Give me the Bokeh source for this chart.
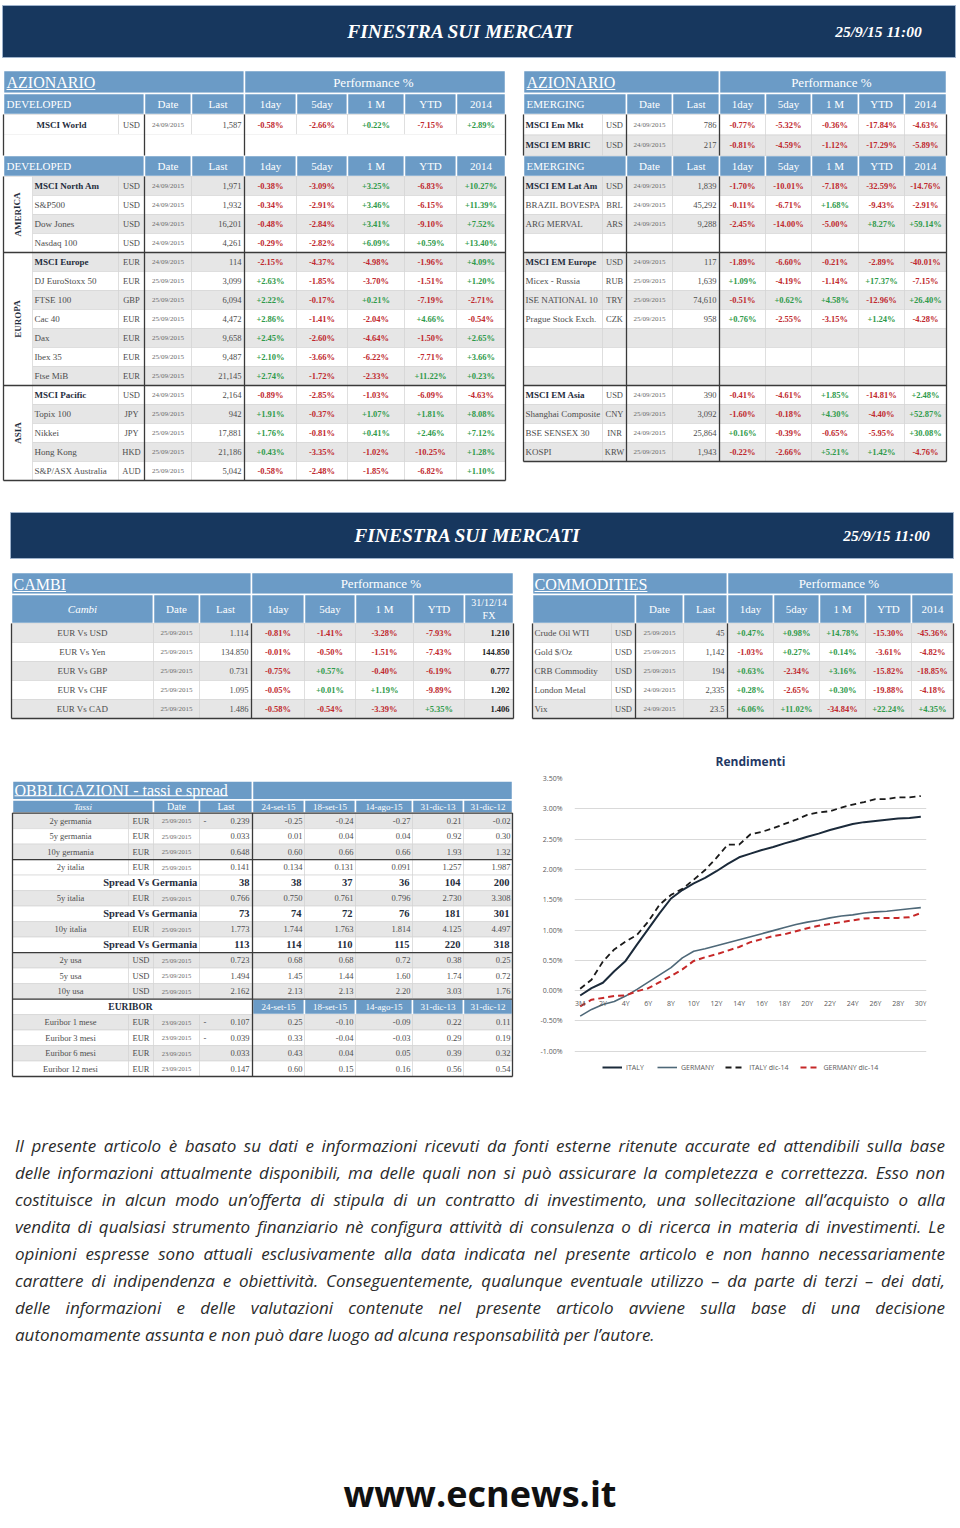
import math
from bokeh.plotting import figure
from bokeh.models import ColumnDataSource, Range1d, FixedTicker, PrintfTickFormatter, Legend, Div
from bokeh.layouts import column, row
from bokeh.embed import file_html
from bokeh.resources import INLINE

# ======================= DATA =======================
title_text = "FINESTRA SUI MERCATI"
title_date = "25/9/15 11:00"
perf_header = ["Date", "Last", "1day", "5day", "1 M", "YTD", "2014"]

dev_top = [("MSCI World", "USD", "24/09/2015", "1,587", "-0.58%", "-2.66%", "+0.22%", "-7.15%", "+2.89%")]
dev_america = [
    ("MSCI North Am", "USD", "24/09/2015", "1,971", "-0.38%", "-3.09%", "+3.25%", "-6.83%", "+10.27%"),
    ("S&P500", "USD", "24/09/2015", "1,932", "-0.34%", "-2.91%", "+3.46%", "-6.15%", "+11.39%"),
    ("Dow Jones", "USD", "24/09/2015", "16,201", "-0.48%", "-2.84%", "+3.41%", "-9.10%", "+7.52%"),
    ("Nasdaq 100", "USD", "24/09/2015", "4,261", "-0.29%", "-2.82%", "+6.09%", "+0.59%", "+13.40%"),
]
dev_europa = [
    ("MSCI Europe", "EUR", "24/09/2015", "114", "-2.15%", "-4.37%", "-4.98%", "-1.96%", "+4.09%"),
    ("DJ EuroStoxx 50", "EUR", "25/09/2015", "3,099", "+2.63%", "-1.85%", "-3.70%", "-1.51%", "+1.20%"),
    ("FTSE 100", "GBP", "25/09/2015", "6,094", "+2.22%", "-0.17%", "+0.21%", "-7.19%", "-2.71%"),
    ("Cac 40", "EUR", "25/09/2015", "4,472", "+2.86%", "-1.41%", "-2.04%", "+4.66%", "-0.54%"),
    ("Dax", "EUR", "25/09/2015", "9,658", "+2.45%", "-2.60%", "-4.64%", "-1.50%", "+2.65%"),
    ("Ibex 35", "EUR", "25/09/2015", "9,487", "+2.10%", "-3.66%", "-6.22%", "-7.71%", "+3.66%"),
    ("Ftse MiB", "EUR", "25/09/2015", "21,145", "+2.74%", "-1.72%", "-2.33%", "+11.22%", "+0.23%"),
]
dev_asia = [
    ("MSCI Pacific", "USD", "24/09/2015", "2,164", "-0.89%", "-2.85%", "-1.03%", "-6.09%", "-4.63%"),
    ("Topix 100", "JPY", "25/09/2015", "942", "+1.91%", "-0.37%", "+1.07%", "+1.81%", "+8.08%"),
    ("Nikkei", "JPY", "25/09/2015", "17,881", "+1.76%", "-0.81%", "+0.41%", "+2.46%", "+7.12%"),
    ("Hong Kong", "HKD", "25/09/2015", "21,186", "+0.43%", "-3.35%", "-1.02%", "-10.25%", "+1.28%"),
    ("S&P/ASX Australia", "AUD", "25/09/2015", "5,042", "-0.58%", "-2.48%", "-1.85%", "-6.82%", "+1.10%"),
]
region_labels = ["AMERICA", "EUROPA", "ASIA"]

em_top = [
    ("MSCI Em Mkt", "USD", "24/09/2015", "786", "-0.77%", "-5.32%", "-0.36%", "-17.84%", "-4.63%"),
    ("MSCI EM BRIC", "USD", "24/09/2015", "217", "-0.81%", "-4.59%", "-1.12%", "-17.29%", "-5.89%"),
]
em_rows = [
    ("MSCI EM Lat Am", "USD", "24/09/2015", "1,839", "-1.70%", "-10.01%", "-7.18%", "-32.59%", "-14.76%"),
    ("BRAZIL BOVESPA", "BRL", "24/09/2015", "45,292", "-0.11%", "-6.71%", "+1.68%", "-9.43%", "-2.91%"),
    ("ARG MERVAL", "ARS", "24/09/2015", "9,288", "-2.45%", "-14.00%", "-5.00%", "+8.27%", "+59.14%"),
    None,
    ("MSCI EM Europe", "USD", "24/09/2015", "117", "-1.89%", "-6.60%", "-0.21%", "-2.89%", "-40.01%"),
    ("Micex - Russia", "RUB", "25/09/2015", "1,639", "+1.09%", "-4.19%", "-1.14%", "+17.37%", "-7.15%"),
    ("ISE NATIONAL 10", "TRY", "25/09/2015", "74,610", "-0.51%", "+0.62%", "+4.58%", "-12.96%", "+26.40%"),
    ("Prague Stock Exch.", "CZK", "25/09/2015", "958", "+0.76%", "-2.55%", "-3.15%", "+1.24%", "-4.28%"),
    None, None, None,
    ("MSCI EM Asia", "USD", "24/09/2015", "390", "-0.41%", "-4.61%", "+1.85%", "-14.81%", "+2.48%"),
    ("Shanghai Composite", "CNY", "25/09/2015", "3,092", "-1.60%", "-0.18%", "+4.30%", "-4.40%", "+52.87%"),
    ("BSE SENSEX 30", "INR", "24/09/2015", "25,864", "+0.16%", "-0.39%", "-0.65%", "-5.95%", "+30.08%"),
    ("KOSPI", "KRW", "25/09/2015", "1,943", "-0.22%", "-2.66%", "+5.21%", "+1.42%", "-4.76%"),
]

fx_header = ["Date", "Last", "1day", "5day", "1 M", "YTD"]
fx_rows = [
    ("EUR Vs USD", "25/09/2015", "1.114", "-0.81%", "-1.41%", "-3.28%", "-7.93%", "1.210"),
    ("EUR Vs Yen", "25/09/2015", "134.850", "-0.01%", "-0.50%", "-1.51%", "-7.43%", "144.850"),
    ("EUR Vs GBP", "25/09/2015", "0.731", "-0.75%", "+0.57%", "-0.40%", "-6.19%", "0.777"),
    ("EUR Vs CHF", "25/09/2015", "1.095", "-0.05%", "+0.01%", "+1.19%", "-9.89%", "1.202"),
    ("EUR Vs CAD", "25/09/2015", "1.486", "-0.58%", "-0.54%", "-3.39%", "+5.35%", "1.406"),
]
comm_rows = [
    ("Crude Oil WTI", "USD", "25/09/2015", "45", "+0.47%", "+0.98%", "+14.78%", "-15.30%", "-45.36%"),
    ("Gold $/Oz", "USD", "25/09/2015", "1,142", "-1.03%", "+0.27%", "+0.14%", "-3.61%", "-4.82%"),
    ("CRB Commodity", "USD", "25/09/2015", "194", "+0.63%", "-2.34%", "+3.16%", "-15.82%", "-18.85%"),
    ("London Metal", "USD", "24/09/2015", "2,335", "+0.28%", "-2.65%", "+0.30%", "-19.88%", "-4.18%"),
    ("Vix", "USD", "24/09/2015", "23.5", "+6.06%", "+11.02%", "-34.84%", "+22.24%", "+4.35%"),
]

bond_dates = ["24-set-15", "18-set-15", "14-ago-15", "31-dic-13", "31-dic-12"]
# kind, name, ccy, date, neg-mark, last, five historical values
bond_rows = [
    ("rate", "2y germania", "EUR", "25/09/2015", "-", "0.239", "-0.25", "-0.24", "-0.27", "0.21", "-0.02"),
    ("rate", "5y germania", "EUR", "25/09/2015", "", "0.033", "0.01", "0.04", "0.04", "0.92", "0.30"),
    ("rate", "10y germania", "EUR", "25/09/2015", "", "0.648", "0.60", "0.66", "0.66", "1.93", "1.32"),
    ("rate", "2y italia", "EUR", "25/09/2015", "", "0.141", "0.134", "0.131", "0.091", "1.257", "1.987"),
    ("spread", "Spread Vs Germania", "", "", "", "38", "38", "37", "36", "104", "200"),
    ("rate", "5y italia", "EUR", "25/09/2015", "", "0.766", "0.750", "0.761", "0.796", "2.730", "3.308"),
    ("spread", "Spread Vs Germania", "", "", "", "73", "74", "72", "76", "181", "301"),
    ("rate", "10y italia", "EUR", "25/09/2015", "", "1.773", "1.744", "1.763", "1.814", "4.125", "4.497"),
    ("spread", "Spread Vs Germania", "", "", "", "113", "114", "110", "115", "220", "318"),
    ("rate", "2y usa", "USD", "25/09/2015", "", "0.723", "0.68", "0.68", "0.72", "0.38", "0.25"),
    ("rate", "5y usa", "USD", "25/09/2015", "", "1.494", "1.45", "1.44", "1.60", "1.74", "0.72"),
    ("rate", "10y usa", "USD", "25/09/2015", "", "2.162", "2.13", "2.13", "2.20", "3.03", "1.76"),
    ("head", "EURIBOR", "", "", "", "", "", "", "", "", ""),
    ("rate", "Euribor 1 mese", "EUR", "23/09/2015", "-", "0.107", "0.25", "-0.10", "-0.09", "0.22", "0.11"),
    ("rate", "Euribor 3 mesi", "EUR", "23/09/2015", "-", "0.039", "0.33", "-0.04", "-0.03", "0.29", "0.19"),
    ("rate", "Euribor 6 mesi", "EUR", "23/09/2015", "", "0.033", "0.43", "0.04", "0.05", "0.39", "0.32"),
    ("rate", "Euribor 12 mesi", "EUR", "23/09/2015", "", "0.147", "0.60", "0.15", "0.16", "0.56", "0.54"),
]

# yield curves (percent)
maturities = ["3M", "1Y", "2Y", "3Y", "4Y", "5Y", "6Y", "7Y", "8Y", "9Y", "10Y", "11Y", "12Y", "13Y", "14Y",
              "15Y", "16Y", "17Y", "18Y", "19Y", "20Y", "21Y", "22Y", "23Y", "24Y", "25Y", "26Y", "27Y",
              "28Y", "29Y", "30Y"]
italy = [-0.08, 0.04, 0.13, 0.32, 0.49, 0.76, 1.02, 1.28, 1.52, 1.66, 1.77, 1.86, 1.97, 2.09, 2.20, 2.26,
         2.32, 2.37, 2.43, 2.48, 2.54, 2.59, 2.65, 2.70, 2.75, 2.78, 2.80, 2.82, 2.84, 2.85, 2.87]
germany = [-0.42, -0.31, -0.23, -0.18, -0.09, 0.02, 0.14, 0.26, 0.38, 0.54, 0.65, 0.69, 0.74, 0.79, 0.84,
           0.89, 0.94, 0.99, 1.04, 1.09, 1.13, 1.16, 1.20, 1.23, 1.25, 1.28, 1.30, 1.31, 1.33, 1.35, 1.37]
italy_dic14 = [0.03, 0.18, 0.48, 0.68, 0.81, 0.92, 1.14, 1.42, 1.58, 1.68, 1.83, 1.99, 2.19, 2.41, 2.41,
               2.58, 2.62, 2.68, 2.75, 2.82, 2.90, 2.94, 2.96, 3.02, 3.07, 3.11, 3.16, 3.16, 3.19, 3.19, 3.21]
germany_dic14 = [-0.26, -0.15, -0.12, -0.09, -0.08, -0.01, 0.04, 0.14, 0.24, 0.35, 0.49, 0.55, 0.60, 0.66,
                 0.72, 0.80, 0.85, 0.90, 0.93, 0.98, 1.03, 1.07, 1.10, 1.13, 1.16, 1.19, 1.20, 1.20, 1.20,
                 1.21, 1.28]
y_ticks = [-1.0, -0.5, 0.0, 0.5, 1.0, 1.5, 2.0, 2.5, 3.0, 3.5]

disclaimer_lines = [
    "Il presente articolo è basato su dati e informazioni ricevuti da fonti esterne ritenute accurate ed attendibili sulla base",
    "delle informazioni attualmente disponibili, ma delle quali non si può assicurare la completezza e correttezza. Esso non",
    "costituisce in alcun modo un’offerta di stipula di un contratto di investimento, una sollecitazione all’acquisto o alla",
    "vendita di qualsiasi strumento finanziario nè configura attività di consulenza o di ricerca in materia di investimenti. Le",
    "opinioni espresse sono attuali esclusivamente alla data indicata nel presente articolo e non hanno necessariamente",
    "carattere di indipendenza e obiettività. Conseguentemente, qualunque eventuale utilizzo – da parte di terzi – dei dati,",
    "delle informazioni e delle valutazioni contenute nel presente articolo avviene sulla base di una decisione",
    "autonomamente assunta e non può dare luogo ad alcuna responsabilità per l’autore.",
]
site = "www.ecnews.it"

# ======================= STYLE =======================
SERIF = "Liberation Serif"
NAVY = "#17375e"
HBLUE = "#6b9bc6"
GROW = "#e6e6e6"
RED = "#c0282d"
GREEN = "#2f9a4a"
TXT = "#4d4d4d"
TXTB = "#1f2d3d"
DATEC = "#6b6b6b"
DARK = "#3a3a3a"
CELLLINE = "#d2d2d2"
HSIZE = 11


class Canvas:
    def __init__(self):
        self.q = {k: [] for k in ("l", "r", "t", "b", "fill", "line", "lw")}
        self.s = {k: [] for k in ("x0", "y0", "x1", "y1", "color", "lw")}
        self.t = {k: [] for k in ("x", "y", "text", "font", "size", "style", "color", "align", "angle")}

    def box(self, l, r, t, b, fill, line=CELLLINE, lw=0.6):
        for k, v in zip(("l", "r", "t", "b", "fill", "line", "lw"), (l, r, t, b, fill, line, lw)):
            self.q[k].append(v)

    def seg(self, x0, y0, x1, y1, color=DARK, lw=1.3):
        for k, v in zip(("x0", "y0", "x1", "y1", "color", "lw"), (x0, y0, x1, y1, color, lw)):
            self.s[k].append(v)

    def txt(self, x, y, text, size=8.5, color=TXT, style="normal", align="center", font=SERIF, angle=0.0):
        for k, v in zip(("x", "y", "text", "font", "size", "style", "color", "align", "angle"),
                        (x, y, text, font, f"{size}px", style, color, align, angle)):
            self.t[k].append(v)

    def render(self, p):
        p.quad(left="l", right="r", top="t", bottom="b", fill_color="fill", line_color="line",
               line_width="lw", source=ColumnDataSource(self.q))
        p.segment(x0="x0", y0="y0", x1="x1", y1="y1", line_color="color", line_width="lw",
                  source=ColumnDataSource(self.s))
        p.text(x="x", y="y", text="text", text_font="font", text_font_size="size",
               text_font_style="style", text_color="color", text_align="align", angle="angle",
               text_baseline="middle", source=ColumnDataSource(self.t))


def page_fig(w, h, x0, x1, ytop, ybot):
    p = figure(width=w, height=h, x_range=Range1d(x0, x1), y_range=Range1d(ybot, ytop),
               output_backend="svg", toolbar_location=None, min_border=0,
               x_axis_location=None, y_axis_location=None)
    p.grid.visible = False
    p.outline_line_color = None
    p.background_fill_color = "white"
    p.border_fill_color = "white"
    return p


def perf_color(s):
    return RED if s.startswith("-") else GREEN


def hcell(c, l, r, t, b, label=None, size=HSIZE, style="normal", align="center", x=None):
    c.box(l, r, t, b, HBLUE, "white", 1.5)
    if label:
        c.txt((l + r) / 2 if x is None else x, (t + b) / 2, label, size, "white", style, align)


def ul_title(c, x, y, text, em):
    size = 16
    c.txt(x, y, text, size, "white", "normal", "left")
    c.seg(x, y + 7, x + em * size, y + 7, "white", 1)


def eq_row(c, y, h, xs, rec, fill, name_x):
    # xs: [name_l, name_r, ccy_r, date_r, last_r, p1_r .. p5_r]
    for i in range(len(xs) - 1):
        c.box(xs[i], xs[i + 1], y, y + h, fill)
    if rec is None:
        return
    name, ccy, date, last = rec[:4]
    perf = rec[4:]
    cy = y + h / 2
    bold = name.startswith("MSCI")
    c.txt(name_x, cy, name, 9, TXTB if bold else TXT, "bold" if bold else "normal", "left")
    c.txt((xs[1] + xs[2]) / 2, cy, ccy, 8.5, TXT)
    c.txt((xs[2] + xs[3]) / 2, cy, date, 7, DATEC)
    c.txt(xs[4] - 3, cy, last, 8.5, TXT, "normal", "right")
    for j, v in enumerate(perf):
        c.txt((xs[4 + j] + xs[5 + j]) / 2, cy, v, 8.5, perf_color(v), "bold")


def header_bar(c, l, r, t, b, tx, dx):
    c.box(l, r, t, b, NAVY, "#9fb3cc", 1)
    cy = (t + b) / 2
    c.txt(tx, cy, title_text, 19.5, "white", "bold italic")
    c.txt(dx, cy, title_date, 15.5, "white", "bold italic")


# ======================= TOP SECTION =======================
top = Canvas()
header_bar(top, 2, 955, 5, 57, 460, 878)

# ---- left: developed ----
LE = [3, 32, 118, 144, 191, 244, 296, 347, 404, 456, 505]
hcell(top, 3, 244, 70, 93)
ul_title(top, 6, 82, "AZIONARIO", 5.554)
hcell(top, 244, 505, 70, 93, "Performance  %", 13)
for hy0, hy1 in ((93, 114), (155, 176)):
    hcell(top, 3, 144, hy0, hy1, "DEVELOPED", HSIZE, align="left", x=6)
    for i, lab in enumerate(perf_header):
        hcell(top, LE[3 + i], LE[4 + i], hy0, hy1, lab)
eq_row(top, 114, 20, [3] + LE[2:], dev_top[0], "white", 36)
top.box(3, 505, 134, 155, "white", "white", 0.1)
y = 176
k = 0
for gi, grp in enumerate((dev_america, dev_europa, dev_asia)):
    g0 = y
    for rec in grp:
        eq_row(top, y, 19, LE[1:], rec, GROW if k % 2 == 0 else "white", 34)
        y += 19
        k += 1
    top.box(3, 32, g0, y, "white", CELLLINE, 0.6)
    top.txt(17, (g0 + y) / 2, region_labels[gi], 9, TXTB, "bold", angle=math.pi / 2)
    top.seg(3, y, 505, y)
for xv in (3, 144, 244, 505):
    top.seg(xv, 114, xv, 155)
    top.seg(xv, 176, xv, 480)

# ---- right: emerging ----
RE = [523, 602, 626, 672, 719, 765, 811, 858, 904, 946]
hcell(top, 523, 719, 70, 93)
ul_title(top, 526, 82, "AZIONARIO", 5.554)
hcell(top, 719, 946, 70, 93, "Performance  %", 13)
for hy0, hy1 in ((93, 114), (155, 176)):
    hcell(top, 523, 626, hy0, hy1, "EMERGING", HSIZE, align="left", x=526)
    for i, lab in enumerate(perf_header):
        hcell(top, RE[2 + i], RE[3 + i], hy0, hy1, lab)
eq_row(top, 114, 20.5, RE, em_top[0], "white", 525)
eq_row(top, 134.5, 20.5, RE, em_top[1], GROW, 525)
y = 176
for k, rec in enumerate(em_rows):
    eq_row(top, y, 19, RE, rec, GROW if k % 2 == 0 else "white", 525)
    y += 19
for yv in (252, 385, 461):
    top.seg(523, yv, 946, yv)
for xv in (523, 626, 719, 946):
    top.seg(xv, 114, xv, 155)
    top.seg(xv, 176, xv, 461)

# ---- second header ----
header_bar(top, 10, 953, 512, 558, 467, 886)

# ---- cambi ----
CE = [11, 153, 199, 251, 304, 355, 413, 464, 513]
hcell(top, 11, 251, 572, 594)
ul_title(top, 13, 584, "CAMBI", 3.278)
hcell(top, 251, 513, 572, 594, "Performance  %", 13)
hcell(top, 11, 153, 594, 623, "Cambi", HSIZE, "italic")
for i, lab in enumerate(fx_header):
    hcell(top, CE[1 + i], CE[2 + i], 594, 623, lab)
hcell(top, 464, 513, 594, 623)
top.txt(488.5, 602, "31/12/14", 10, "white")
top.txt(488.5, 615, "FX", 10, "white")
y = 623
for k, rec in enumerate(fx_rows):
    fill = GROW if k % 2 == 0 else "white"
    for i in range(len(CE) - 1):
        top.box(CE[i], CE[i + 1], y, y + 19, fill)
    cy = y + 9.5
    top.txt(82, cy, rec[0], 9, TXT)
    top.txt(176, cy, rec[1], 7, DATEC)
    top.txt(248, cy, rec[2], 8.5, TXT, align="right")
    for j, v in enumerate(rec[3:7]):
        top.txt((CE[3 + j] + CE[4 + j]) / 2, cy, v, 8.5, perf_color(v), "bold")
    top.txt(509, cy, rec[7], 8.5, "#222222", "bold", "right")
    y += 19
top.seg(11, 718, 513, 718)
for xv in (11, 251, 513):
    top.seg(xv, 623, xv, 718)

# ---- commodities ----
ME = [532, 611, 635, 683, 727, 773, 819, 865, 911, 953]
hcell(top, 532, 727, 572, 594)
ul_title(top, 534, 584, "COMMODITIES", 7.055)
hcell(top, 727, 953, 572, 594, "Performance  %", 13)
hcell(top, 532, 635, 594, 623)
for i, lab in enumerate(perf_header):
    hcell(top, ME[2 + i], ME[3 + i], 594, 623, lab)
y = 623
for k, rec in enumerate(comm_rows):
    eq_row(top, y, 19, ME, rec, GROW if k % 2 == 0 else "white", 534)
    y += 19
top.seg(532, 718, 953, 718)
for xv in (532, 635, 727, 953):
    top.seg(xv, 623, xv, 718)

p_top = page_fig(960, 736, 0, 960, 0, 736)
top.render(p_top)

# ======================= BOND TABLE =======================
bd = Canvas()
BE = [12, 128, 153, 199, 252, 304, 355, 412, 463, 512]
hcell(bd, 12, 252, 739, 762)
ul_title(bd, 14, 750, "OBBLIGAZIONI - tassi e spread", 13.33)
hcell(bd, 252, 512, 739, 762)
hcell(bd, 12, 153, 762, 778, "Tassi", 9, "italic")
hcell(bd, 153, 199, 762, 778, "Date", 10)
hcell(bd, 199, 252, 762, 778, "Last", 10)
for i, lab in enumerate(bond_dates):
    hcell(bd, BE[4 + i], BE[5 + i], 762, 778, lab, 9)
RH = 18.8
fills = [GROW, "white", GROW, "white", "white", GROW, "white", GROW, "white", GROW, "white", GROW,
         "white", GROW, "white", GROW, "white"]
y = 778
for k, rec in enumerate(bond_rows):
    kind = rec[0]
    cy = y + RH / 2
    fill = fills[k]
    if kind == "rate":
        for i in range(len(BE) - 1):
            bd.box(BE[i], BE[i + 1], y, y + RH, fill)
        bd.txt(70, cy, rec[1], 8.5, TXT)
        bd.txt(140.5, cy, rec[2], 8.5, TXT)
        bd.txt(176, cy, rec[3], 6.5, DATEC)
        if rec[4]:
            bd.txt(203, cy, rec[4], 8.5, TXT, align="left")
        bd.txt(249, cy, rec[5], 8.5, TXT, align="right")
        for j, v in enumerate(rec[6:]):
            bd.txt(BE[5 + j] - 2, cy, v, 8.5, TXT, align="right")
    elif kind == "spread":
        bd.box(12, 199, y, y + RH, fill)
        for i in range(3, len(BE) - 1):
            bd.box(BE[i], BE[i + 1], y, y + RH, fill)
        bd.txt(197, cy, rec[1], 10.5, TXTB, "bold", "right")
        bd.txt(249, cy, rec[5], 10.5, TXTB, "bold", "right")
        for j, v in enumerate(rec[6:]):
            bd.txt(BE[5 + j] - 3, cy, v, 10.5, TXTB, "bold", "right")
    else:
        bd.box(12, 252, y, y + RH, "white")
        bd.txt(130, cy, rec[1], 9.5, TXTB, "bold")
        for i, lab in enumerate(bond_dates):
            hcell(bd, BE[4 + i], BE[5 + i], y, y + RH, lab, 9)
    y += RH
for yv in (778, 778 + 3 * RH, 778 + 9 * RH, 778 + 12 * RH, 778 + 17 * RH):
    bd.seg(12, yv, 512, yv)
for xv in (12, 252, 512):
    bd.seg(xv, 778, xv, 778 + 17 * RH)

p_bond = page_fig(520, 364, 0, 520, 736, 1100)
bd.render(p_bond)

# ======================= YIELD CHART =======================
xs = list(range(len(maturities)))
ch = figure(width=440, height=364, x_range=Range1d(-0.5, len(maturities) - 0.5), y_range=Range1d(-1.45, 3.5),
            output_backend="svg", toolbar_location=None,
            min_border_left=54, min_border_right=34, min_border_top=42, min_border_bottom=22)
ch.outline_line_color = None
ch.title.text = "Rendimenti"
ch.title.align = "center"
ch.title.text_font = "Open Sans"
ch.title.text_font_size = "12px"
ch.title.text_color = "#1f3864"
ch.title.text_font_style = "bold"
ch.title.standoff = 17

ch.xaxis.ticker = FixedTicker(ticks=xs[::2])
ch.xaxis.major_label_overrides = {i: maturities[i] for i in xs[::2]}
ch.xaxis.fixed_location = 0
ch.yaxis.ticker = FixedTicker(ticks=y_ticks)
ch.yaxis.formatter = PrintfTickFormatter(format="%.2f%%")
for ax in (ch.xaxis[0], ch.yaxis[0]):
    ax.axis_line_color = None
    ax.major_tick_line_color = None
    ax.minor_tick_line_color = None
    ax.major_label_text_font_size = "7px"
    ax.major_label_text_color = "#595959"
    ax.major_label_text_font = "Open Sans"
ch.xaxis.major_label_standoff = 2
ch.yaxis.major_label_standoff = 6
ch.xgrid.visible = False
ch.ygrid.ticker = FixedTicker(ticks=y_ticks)
ch.ygrid.grid_line_color = "#d9d9d9"

r1 = ch.line(xs, italy, line_color="#1b2a3a", line_width=2)
r2 = ch.line(xs, germany, line_color="#4e6878", line_width=1.6)
r3 = ch.line(xs, italy_dic14, line_color="#1a1a1a", line_width=1.8, line_dash="6 4")
r4 = ch.line(xs, germany_dic14, line_color="#c62828", line_width=2, line_dash="6 4")
leg = Legend(items=[("ITALY", [r1]), ("GERMANY", [r2]), ("ITALY dic-14", [r3]), ("GERMANY dic-14", [r4])],
             orientation="horizontal", location=(28, 5), label_text_font_size="7px",
             label_text_color="#595959", label_text_font="Open Sans", glyph_width=20, glyph_height=10,
             label_height=12, label_standoff=4, spacing=11, padding=0, margin=0,
             border_line_color=None, background_fill_alpha=0)
ch.add_layout(leg)

# ======================= DISCLAIMER =======================
html = '<div style="position:relative;width:960px;height:428px;background:white;">'
for i, ln in enumerate(disclaimer_lines):
    last = i == len(disclaimer_lines) - 1
    al = "left" if last else "justify"
    html += ('<div style="position:absolute;left:15px;top:%dpx;width:930px;font-family:\'Open Sans\';'
             'font-style:italic;font-size:17px;line-height:27px;color:#2b2b2b;white-space:nowrap;'
             'text-align:%s;text-align-last:%s;">%s</div>' % (32 + i * 27, al, al, ln))
html += ('<div style="position:absolute;left:0;top:374px;width:960px;text-align:center;font-family:\'Open Sans\';'
         'font-weight:bold;font-size:36px;line-height:40px;color:#111;">%s</div>' % site)
html += '</div>'
foot = Div(text=html, width=960, height=428, margin=0)

layout = column(p_top, row(p_bond, ch, spacing=0), foot, spacing=0)
open("out.html", "w").write(file_html(layout, INLINE))
